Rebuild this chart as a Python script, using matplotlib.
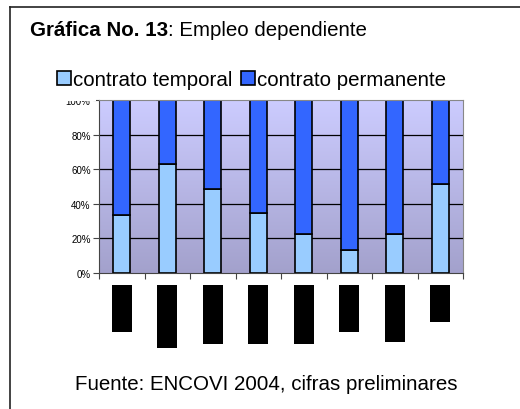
import numpy as np
import matplotlib
matplotlib.use("Agg")
import matplotlib.pyplot as plt
from matplotlib.patches import Patch, Rectangle
from matplotlib.lines import Line2D
from matplotlib.ticker import PercentFormatter

# data (share of temporary contracts, %)
temporal = [33.5, 62.8, 48.6, 34.7, 22.4, 13.3, 22.4, 51.4]
permanente = [100 - v for v in temporal]
# hidden category labels (black boxes under the bars), length in px
label_boxes = [47, 63, 59, 59, 59, 47, 57, 37]

light = "#99CCFF"
dark = "#3366FF"

plt.rcParams["font.family"] = ["Liberation Sans", "DejaVu Sans"]

W, H = 520, 410
fig = plt.figure(figsize=(W / 100, H / 100), dpi=100)

def fx(px):
    return px / W

def fy(py):
    return 1 - py / H

# outer frame (left and top edges only visible)
fig.add_artist(Line2D([fx(10), fx(10)], [fy(8), 0], color="#222222", lw=1.2))
fig.add_artist(Line2D([fx(10), 1], [fy(8), fy(8)], color="#222222", lw=1.2))

# main axes
ax = fig.add_axes([fx(99), fy(274), fx(463) - fx(99), (274 - 101) / H])
x = np.arange(len(temporal))
grad = np.linspace(0, 1, 256).reshape(-1, 1)
cmap = matplotlib.colors.LinearSegmentedColormap.from_list("bg", ["#CCCCFF", "#A3A1CC"])
ax.imshow(grad, aspect="auto", cmap=cmap, extent=[-0.5, len(x) - 0.5, 0, 100], zorder=0)
for yv in [20, 40, 60, 80]:
    ax.axhline(yv, color="black", lw=0.9, zorder=1)
ax.bar(x, temporal, width=0.38, color=light, edgecolor="black", linewidth=1.2, zorder=2)
ax.bar(x, permanente, bottom=temporal, width=0.38, color=dark, edgecolor="black", linewidth=1.2, zorder=2)
ax.set_xlim(-0.5, len(x) - 0.5)
ax.set_ylim(0, 100)
ax.set_yticks([0, 20, 40, 60, 80, 100])
ax.yaxis.set_major_formatter(PercentFormatter(decimals=0))
ax.set_xticks(np.arange(len(x) + 1) - 0.5)
ax.set_xticklabels([])
ax.tick_params(axis="both", direction="out", length=4, width=0.8, colors="#444444", labelsize=7, labelcolor="black", pad=2)
for side in ["top", "right"]:
    ax.spines[side].set_color("#888888")
ax.spines["left"].set_color("#444444")
ax.spines["bottom"].set_color("#444444")

# black boxes below the bars
ax2 = fig.add_axes([fx(99), fy(350), fx(463) - fx(99), 64 / H])
ax2.bar(x, [-v for v in label_boxes], width=0.44, color="black")
ax2.set_xlim(-0.5, len(x) - 0.5)
ax2.set_ylim(-64, 0)
ax2.axis("off")

# mask hiding the top of the "100%" label (sits between legend and plot)
mask = Rectangle((fx(40), fy(101.5)), fx(56), 12 / H, transform=fig.transFigure,
                 facecolor="white", edgecolor="none", zorder=5)
fig.patches.append(mask)

fs = 14.8
# title
t1 = fig.text(fx(30), fy(31), "Gráfica No. 13", fontsize=fs, fontweight="bold", va="center")
r = fig.canvas.get_renderer()
bb = t1.get_window_extent(r)
fig.text(bb.x1 / W, fy(31), ": Empleo dependiente", fontsize=fs, va="center")

# legend
handles = [Patch(facecolor=light, edgecolor="black", linewidth=1.2, label="contrato temporal"),
           Patch(facecolor=dark, edgecolor="black", linewidth=1.2, label="contrato permanente")]
fig.legend(handles=handles, loc="center left", bbox_to_anchor=(fx(57), fy(81)), ncol=2, frameon=False,
           fontsize=fs, handlelength=0.68, handleheight=0.68, handletextpad=0.12, columnspacing=0.4,
           borderpad=0, borderaxespad=0)

# source
fig.text(fx(266), fy(385), "Fuente: ENCOVI 2004, cifras preliminares", fontsize=fs, ha="center", va="center")

fig.savefig("out.png", dpi=100)
